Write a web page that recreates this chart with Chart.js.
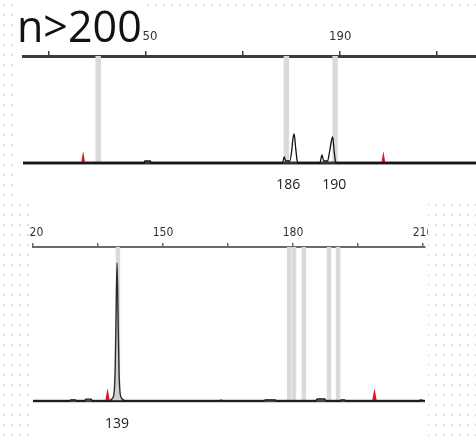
<!DOCTYPE html>
<html>
<head>
<meta charset="utf-8">
<script src="https://cdn.jsdelivr.net/npm/chart.js@4.4.1/dist/chart.umd.min.js"></script>
<style>
  body { margin: 0; width: 476px; height: 441px; overflow: hidden; position: relative;
         background: #fff radial-gradient(circle, #e2e2e2 1.1px, transparent 1.7px) 0 0 / 8px 10px; }
  .panel { position: absolute; background: #fff; }
  #title { position: absolute; left: 17px; top: 4px; font: 43px/43px "Open Sans"; color: #111;
           background: #fff; z-index: 2; padding-right: 1px; }
</style>
</head>
<body>
<div id="title">n&gt;200</div>
<div class="panel" style="left:18px;top:10px;width:458px;height:190px"><canvas id="run-top" width="458" height="190"></canvas></div>
<div class="panel" style="left:30px;top:200px;width:398px;height:241px"><canvas id="run-bottom" width="398" height="241"></canvas></div>
<script>
// top run, size axis in bp
const topRange = [124.6, 218]
const topTicks = [130, 150, 170, 190, 210]
const topTickLabels = [150, 190]
const topBins = [140.1, 178.9, 188.95]
const topSizeStd = [137.0, 198.9]
const topStdHeight = [12, 12]
const topTrace = [
  [124.6, 0], [149.6, 0], [149.7, 2], [150.9, 2], [151.0, 0],
  [178.1, 0], [178.45, 6], [178.8, 2], [179.6, 2], [180.0, 12], [180.25, 24], [180.5, 29], [180.8, 16], [181.1, 3], [181.3, 0],
  [185.8, 0], [186.25, 8], [186.6, 2], [187.4, 2], [187.8, 11], [188.15, 21], [188.45, 26], [188.75, 12], [189.0, 2], [189.2, 0],
  [218, 0]
]
const topCalls = ["186", "190"]
const topCallPos = [179.3, 188.75]

// bottom run
const botRange = [120, 210.46]
const botTicks = [120, 135, 150, 165, 180, 195, 210]
const botTickLabels = [120, 150, 180, 210]
const botBins = [139.6, 179.1, 180.2, 182.5, 188.3, 190.4]
const botSizeStd = [137.2, 198.8]
const botStdHeight = [13, 13]
const botTrace = [
  [120, 0], [128.4, 0], [128.7, 1.2], [129.8, 1.2], [130.1, 0], [131.9, 0], [132.2, 1.8], [133.4, 1.8], [133.7, 0],
  [163.2, 0], [163.4, 1], [163.7, 0], [173.2, 0], [173.6, 1.2], [175.9, 1.2], [176.2, 0],
  [185.2, 0], [185.6, 2], [187.3, 2], [187.7, 0], [190.8, 0], [191.1, 1.2], [191.9, 1.2], [192.2, 0],
  [209.1, 0], [209.4, 1], [210.46, 0]
]
const botPeak = [
  [137.6, 0], [138.2, 2], [138.7, 8], [138.95, 30], [139.15, 80], [139.4, 138],
  [139.65, 80], [139.85, 30], [140.1, 8], [140.6, 2], [141.3, 0]
]
const botCalls = ["139"]
const botCallPos = [139.4]

const tickFont = '"Liberation Sans Narrow", "DejaVu Sans Condensed", sans-serif'

const callLabels = {
    id: "callLabels",
    afterDraw(chart, args, opts) {
        const { ctx, scales: { x, y } } = chart
        ctx.save()
        ctx.font = '14px "Open Sans"'
        ctx.fillStyle = "#222"
        ctx.textAlign = "center"
        ctx.textBaseline = "middle"
        opts.text.forEach((t, i) => ctx.fillText(t, x.getPixelForValue(opts.pos[i]), y.getPixelForValue(0) + opts.offset))
        ctx.restore()
    }
}

const pts = arr => arr.map(p => ({ x: p[0], y: p[1] }))

function makeRun(id, run) {
    let datasets = []
    datasets.push({ data: pts(run.trace), borderColor: "#111", borderWidth: 1.3, cubicInterpolationMode: "monotone", order: 0 })
    if (run.peak) {
        datasets.push({ data: pts(run.peak), borderColor: "#2a2a2a", borderWidth: 1.4, backgroundColor: "#cfcfcf",
            fill: "origin", cubicInterpolationMode: "monotone", order: 1 })
    }
    datasets.push({ data: pts([[run.range[0], 0], [run.range[1], 0]]), borderColor: run.baseColor, borderWidth: run.baseWidth, order: 2 })
    run.std.forEach((s, i) => {
        datasets.push({ data: pts([[s - run.stdHalf, 0], [s, run.stdHeight[i]], [s + run.stdHalf, 0]]),
            borderWidth: 0, backgroundColor: "#e3161e", fill: "origin", order: 3 })
    })
    run.bins.forEach(b => {
        datasets.push({ data: pts([[b, 0], [b, run.yMax]]), borderColor: "#dadada", borderWidth: run.binWidth,
            borderCapStyle: "butt", order: 4 })
    })
    datasets.forEach(d => { d.pointRadius = 0; d.type = "line" })

    return new Chart(document.getElementById(id), {
        type: "line",
        data: { datasets },
        options: {
            responsive: false,
            animation: false,
            events: [],
            layout: { autoPadding: false, padding: run.padding },
            plugins: {
                legend: { display: false },
                tooltip: { enabled: false },
                callLabels: { text: run.calls, pos: run.callPos, offset: run.callOffset }
            },
            scales: {
                x: {
                    type: "linear", position: "top", min: run.range[0], max: run.range[1],
                    afterBuildTicks: s => { s.ticks = run.ticks.map(v => ({ value: v })) },
                    // fixed axis height, and let the end labels run off the panel
                    afterFit: s => { s.height = run.axisHeight; s.paddingLeft = 0; s.paddingRight = 0 },
                    ticks: {
                        autoSkip: false, maxRotation: 0, padding: run.tickPad, color: "#333",
                        font: { family: tickFont, size: run.tickSize },
                        callback: v => run.tickLabels.includes(v) ? String(v) : ""
                    },
                    grid: { drawOnChartArea: false, tickLength: run.tickLen, color: run.axisColor, lineWidth: 1.5 },
                    border: { color: run.axisColor, width: run.axisWidth }
                },
                y: { display: false, min: run.yMin, max: run.yMax }
            }
        },
        plugins: [callLabels]
    })
}

makeRun("run-top", {
    range: topRange, ticks: topTicks, tickLabels: topTickLabels, bins: topBins, std: topSizeStd, stdHeight: topStdHeight,
    trace: topTrace, calls: topCalls, callPos: topCallPos, callOffset: 22,
    yMin: -15, yMax: 107, padding: { left: 5, right: 0, top: 0, bottom: 22 },
    axisHeight: 46, tickPad: 7, tickLen: 5, tickSize: 13, axisColor: "#3c3c3c", axisWidth: 3,
    baseColor: "#333", baseWidth: 3, binWidth: 5.5, stdHalf: 0.42
})

makeRun("run-bottom", {
    range: botRange, ticks: botTicks, tickLabels: botTickLabels, bins: botBins, std: botSizeStd, stdHeight: botStdHeight,
    trace: botTrace, peak: botPeak, calls: botCalls, callPos: botCallPos, callOffset: 23,
    yMin: -10, yMax: 154, padding: { left: 3, right: 3, top: 0, bottom: 30 },
    axisHeight: 47, tickPad: 3, tickLen: 4, tickSize: 12, axisColor: "#6a6a6a", axisWidth: 2,
    baseColor: "#4a4a4a", baseWidth: 2.5, binWidth: 4.5, stdHalf: 0.55
})
</script>
</body>
</html>
